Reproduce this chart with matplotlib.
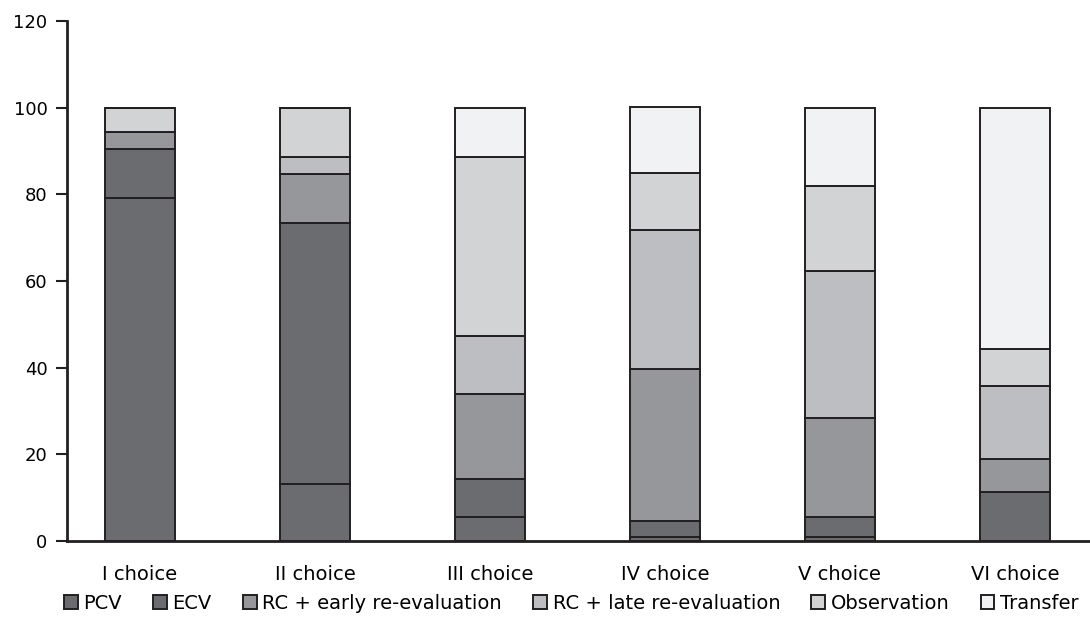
import numpy as np
import matplotlib.pyplot as plt

plt.rcParams['font.family'] = ['DejaVu Sans']

categories = ['I choice', 'II choice', 'III choice', 'IV choice', 'V choice', 'VI choice']
series = ['PCV', 'ECV', 'RC + early re-evaluation', 'RC + late re-evaluation', 'Observation', 'Transfer']
pcv = [79.2, 13.2, 5.6, 0.9, 0.9, 11.2]
ecv = [11.3, 60.3, 8.6, 3.8, 4.7, 0.0]
rc_early = [3.8, 11.3, 19.8, 35.0, 22.7, 7.7]
rc_late = [0.0, 3.8, 13.2, 32.1, 34.0, 16.9]
observation = [5.7, 11.4, 41.4, 13.1, 19.7, 8.5]
transfer = [0.0, 0.0, 11.4, 15.2, 18.0, 55.7]
yticks = [0, 20, 40, 60, 80, 100, 120]

colors = ['#6b6c70', '#6b6c70', '#96979a', '#bdbec1', '#d2d3d5', '#f1f2f3']
edge = '#231f20'

fig = plt.figure(figsize=(10.9, 6.34), dpi=100)
ax = fig.add_axes([67 / 1090, 93 / 634, 1 - 67 / 1090, 520 / 634])

x = np.arange(len(categories))
bottom = np.zeros(len(categories))
for name, vals, c in zip(series, [pcv, ecv, rc_early, rc_late, observation, transfer], colors):
    ax.bar(x, vals, 0.4, bottom=bottom, color=c, edgecolor=edge, linewidth=1.4, label=name)
    bottom += np.array(vals)

ax.set_xlim(-0.417, 5.43)
ax.set_ylim(0, 120)
ax.set_yticks(yticks)
ax.set_xticks(x)
ax.set_xticklabels(categories)
for s in ['top', 'right']:
    ax.spines[s].set_visible(False)
for s in ['left', 'bottom']:
    ax.spines[s].set_linewidth(2)
    ax.spines[s].set_color(edge)
ax.tick_params(axis='y', length=8, width=1.5, color=edge, labelsize=13, pad=6)
ax.tick_params(axis='x', length=0, labelsize=14, pad=17)

ax.legend(loc='upper center', bbox_to_anchor=(0.493, -0.068), ncol=6, frameon=False,
          fontsize=14, handlelength=0.7, handleheight=0.7, handletextpad=0.3,
          columnspacing=1.6)

plt.savefig('out.png')
